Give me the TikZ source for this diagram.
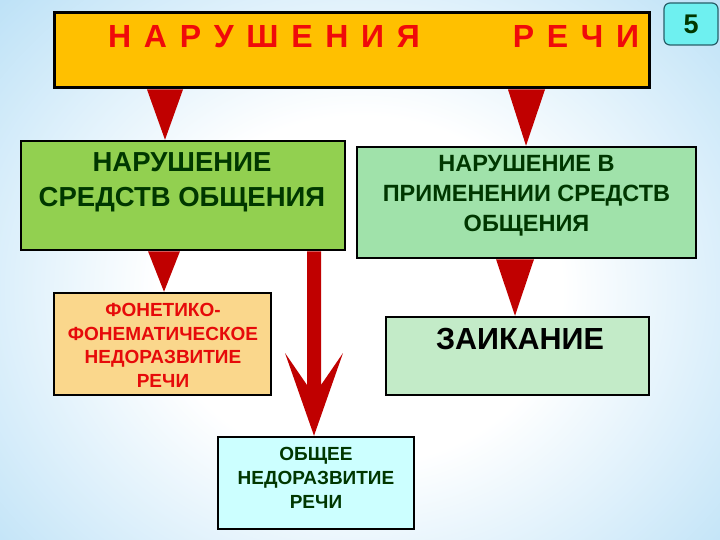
\documentclass[tikz,border=0pt]{standalone}
\usepackage{fontspec}
\setmainfont{Liberation Sans}
\usetikzlibrary{backgrounds}
\definecolor{bgblue}{RGB}{150,208,242}
\definecolor{topfill}{RGB}{255,192,0}
\definecolor{titlered}{RGB}{240,10,10}
\definecolor{arrowred}{RGB}{192,0,0}
\definecolor{gone}{RGB}{146,208,80}
\definecolor{gtwo}{RGB}{160,226,170}
\definecolor{dgreen}{RGB}{0,55,0}
\definecolor{fonfill}{RGB}{250,215,140}
\definecolor{fonred}{RGB}{230,10,10}
\definecolor{zaifill}{RGB}{195,235,200}
\definecolor{onrfill}{RGB}{204,255,255}
\definecolor{badgefill}{RGB}{110,240,240}
\definecolor{badgeline}{RGB}{40,95,105}
\pgfdeclareradialshading{bgshade}{\pgfpoint{0bp}{0bp}}{color(0bp)=(white); color(14bp)=(white); color(40bp)=(bgblue!80!white); color(50bp)=(bgblue); color(100bp)=(bgblue)}
\begin{document}
\begin{tikzpicture}[x=1pt,y=-1pt,
  box/.style={draw=black, line width=2.5pt, rectangle, inner sep=0pt},
  txt/.style={inner sep=0pt, align=center, anchor=north},
  tri/.style={fill=arrowred}]
\useasboundingbox (0,0) rectangle (720,540);
\begin{scope}[on background layer]
  \shade[shading=bgshade] (0,-20) rectangle (720,600);
\end{scope}
% boxes
\node[box, line width=3pt, fill=topfill, minimum width=595pt, minimum height=75pt] (top) at (351.5,50.5) {};
\node[box, fill=gone, minimum width=324pt, minimum height=109pt] (g1) at (183,195.5) {};
\node[box, fill=gtwo, minimum width=339pt, minimum height=111pt] (g2) at (526.5,202.5) {};
\node[box, fill=fonfill, minimum width=217pt, minimum height=102pt] (fon) at (162.5,344) {};
\node[box, fill=zaifill, minimum width=263pt, minimum height=78pt] (zai) at (517.5,356) {};
\node[box, fill=onrfill, minimum width=196pt, minimum height=92pt] (onr) at (316,483) {};
\node[draw=badgeline, line width=1.2pt, fill=badgefill, rounded corners=6pt, minimum width=54pt, minimum height=42pt, inner sep=0pt] (badge) at (691,24) {};
% texts
\def\g{\hskip 12.7pt}
\node[inner sep=0pt, anchor=base west, text=titlered, font=\fontsize{32}{36}\selectfont\bfseries] (title) at (108,48) {Н\g А\g Р\g У\g Ш\g Е\g Н\g И\g Я\hskip 93pt Р\g Е\g Ч\g И};
\node[txt, text=dgreen, font=\fontsize{27.5}{35}\selectfont\bfseries] (g1t) at (182,152) {НАРУШЕНИЕ\\СРЕДСТВ ОБЩЕНИЯ};
\node[txt, text=dgreen, font=\fontsize{23.5}{30}\selectfont\bfseries] (g2t) at (526.5,155) {НАРУШЕНИЕ В\\ПРИМЕНЕНИИ СРЕДСТВ\\ОБЩЕНИЯ};
\node[txt, text=fonred, font=\fontsize{19}{23.7}\selectfont\bfseries] (font) at (163,303) {ФОНЕТИКО-\\ФОНЕМАТИЧЕСКОЕ\\НЕДОРАЗВИТИЕ\\РЕЧИ};
\node[txt, text=black, font=\fontsize{30.5}{36}\selectfont\bfseries] (zait) at (520,328) {ЗАИКАНИЕ};
\node[txt, text=dgreen, font=\fontsize{19}{24}\selectfont\bfseries] (onrt) at (316,447) {ОБЩЕЕ\\НЕДОРАЗВИТИЕ\\РЕЧИ};
\node[inner sep=0pt, text=dgreen, font=\fontsize{27}{30}\selectfont\bfseries] (badget) at (badge.center) {5};
% connectors
\begin{scope}[on background layer]
  \fill[tri] (147,0 |- top.south) -- (183,0 |- top.south) -- (165,0 |- g1.north) -- cycle;
  \fill[tri] (508,0 |- top.south) -- (545,0 |- top.south) -- (526,0 |- g2.north) -- cycle;
  \fill[tri] (148,0 |- g1.south) -- (180,0 |- g1.south) -- (164,0 |- fon.north) -- cycle;
  \fill[tri] (496,0 |- g2.south) -- (534,0 |- g2.south) -- (515,0 |- zai.north) -- cycle;
  \fill[tri] (307,0 |- g1.south) -- (307,385) -- (285,353) -- (314,0 |- onr.north)
     -- (343,353) -- (321,385) -- (321,0 |- g1.south) -- cycle;
\end{scope}
\end{tikzpicture}
\end{document}
